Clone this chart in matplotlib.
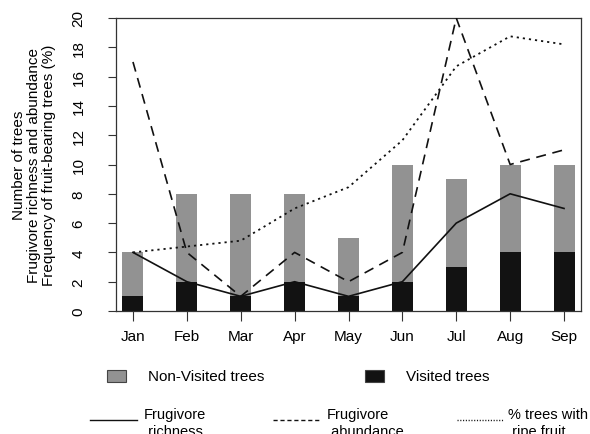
import matplotlib
matplotlib.use("Agg")
import matplotlib.pyplot as plt
from matplotlib.patches import Rectangle
from matplotlib.lines import Line2D
import numpy as np

plt.rcParams['font.family'] = ['Liberation Sans', 'DejaVu Sans']

months = ["Jan", "Feb", "Mar", "Apr", "May", "Jun", "Jul", "Aug", "Sep"]
visited = [1, 2, 1, 2, 1, 2, 3, 4, 4]
non_visited = [3, 6, 7, 6, 4, 8, 6, 6, 6]
richness = [4, 2, 1, 2, 1, 2, 6, 8, 7]
abundance = [17, 4, 1, 4, 2, 4, 20, 10, 11]
pct_ripe = [4.0, 4.4, 4.8, 7.0, 8.45, 11.65, 16.7, 18.75, 18.2]
yticks = [0, 2, 4, 6, 8, 10, 12, 14, 16, 18, 20]

W, H = 590, 435
fig = plt.figure(figsize=(W / 100, H / 100), dpi=100)

def fx(x):
    return x / W

def fy(y):
    return 1 - y / H

fs = 11
ax = fig.add_axes([fx(116), fy(312), fx(581) - fx(116), fy(19) - fy(312)])
x = np.arange(len(months))
gray = '#929292'
black = '#121212'
ax.bar(x, visited, width=0.39, color=black, zorder=2)
ax.bar(x, non_visited, width=0.39, bottom=visited, color=gray, zorder=2)

ax.plot(x, richness, color='#111111', lw=1.2, zorder=3)
ax.plot(x, abundance, color='#111111', lw=1.2, dashes=(6, 4), zorder=3)
ax.plot(x, pct_ripe, color='#111111', lw=1.3, dashes=(1.2, 2.2), zorder=3)

ax.set_xlim(-0.315, 8.315)
ax.set_ylim(0, 20)
ax.set_xticks(x)
ax.set_xticklabels(months, fontsize=fs)
ax.set_yticks(yticks)
ax.set_yticklabels([str(v) for v in yticks], fontsize=fs, rotation=90, va='center')
ax.tick_params(axis='x', length=7, width=0.8, pad=6, colors='#333333', labelcolor='black')
ax.tick_params(axis='y', length=6, width=0.8, pad=16, colors='#333333', labelcolor='black')
for s in ax.spines.values():
    s.set_color('#333333')
    s.set_linewidth(0.9)

# y label (three lines)
fig.text(fx(19), fy(165.5), "Number of trees", rotation=90, ha='center', va='center', fontsize=fs)
fig.text(fx(34), fy(165.5), "Frugivore richness and abundance", rotation=90, ha='center', va='center', fontsize=fs)
fig.text(fx(49), fy(165.5), "Frequency of fruit-bearing trees (%)",
         rotation=90, ha='center', va='center', fontsize=fs)

# legend row 1
def rect(x0, y0, w, h, color):
    fig.add_artist(Rectangle((fx(x0), fy(y0 + h)), fx(w), h / H, transform=fig.transFigure,
                             facecolor=color, edgecolor='#444444', lw=0.8))

rect(107, 371, 19, 12, gray)
fig.text(fx(148), fy(377), "Non-Visited trees", ha='left', va='center', fontsize=fs)
rect(365, 371, 19, 12, black)
fig.text(fx(406), fy(377), "Visited trees", ha='left', va='center', fontsize=fs)

# legend row 2
def seg(x0, x1, y, **kw):
    fig.add_artist(Line2D([fx(x0), fx(x1)], [fy(y), fy(y)], transform=fig.transFigure,
                          color='#111111', **kw))

seg(90, 137, 421, lw=1.0)
seg(273, 320, 421, lw=1.0, dashes=(3, 2))
seg(457, 503, 421, lw=1.0, dashes=(0.8, 1.2))

fs2 = 10.5
entries = [(144, "Frugivore", " richness"), (327, "Frugivore", " abundance"), (508, "% trees with", " ripe fruit")]
for xp, l1, l2 in entries:
    fig.text(fx(xp), fy(419), l1, ha='left', va='baseline', fontsize=fs2)
    fig.text(fx(xp), fy(436), l2, ha='left', va='baseline', fontsize=fs2)

fig.savefig("out.png", dpi=100)
